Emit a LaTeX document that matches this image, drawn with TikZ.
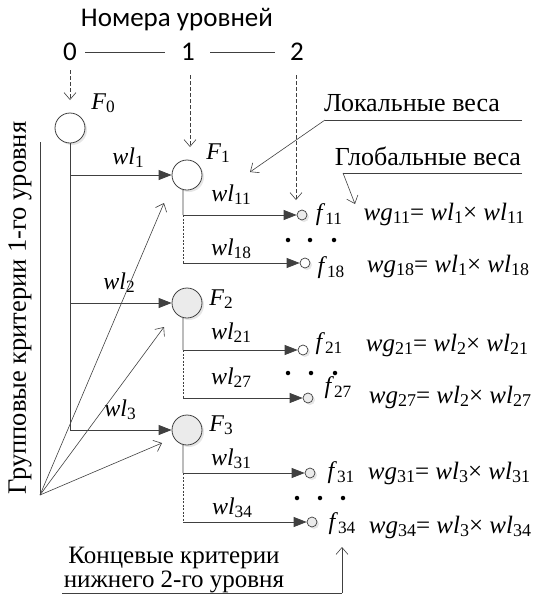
\documentclass[tikz,border=0pt]{standalone}
\usepackage{fontspec}
\setmainfont{Liberation Serif}
\newfontfamily\hdr{Carlito}
\usetikzlibrary{arrows.meta,shadows}
\definecolor{lc}{RGB}{64,64,64}
\definecolor{gfill}{RGB}{235,235,235}
\newcommand\lo[1]{\raisebox{-0.3ex}{\scalebox{0.72}{#1}}}
\newcommand\vv[2]{\textit{#1}\lo{#2}}
\newcommand\frm[2]{\vv{wg}{#1#2}=\ \vv{wl}{#1}×\ \vv{wl}{#1#2}}
\begin{document}
\begin{tikzpicture}[x=1pt,y=-1pt,
  lbl/.style={font=\fontsize{24}{24}\selectfont, inner sep=0pt, text=black},
  txt/.style={font=\fontsize{26}{26}\selectfont, inner sep=0pt, text=black},
  frml/.style={font=\fontsize{25}{25}\selectfont, inner sep=0pt, text=black},
  hd/.style={font=\hdr\fontsize{27}{28}\selectfont, inner sep=0pt},
  bigc/.style={circle, draw=lc, line width=0.8pt, minimum size=30pt, inner sep=0pt, fill=white,
     drop shadow={opacity=0.2, shadow xshift=2pt, shadow yshift=-2pt}},
  smc/.style={circle, draw=lc, line width=0.7pt, minimum size=10pt, inner sep=0pt, fill=white,
     drop shadow={opacity=0.2, shadow xshift=2pt, shadow yshift=-2pt}},
  dotn/.style={circle, fill=black, minimum size=4.5pt, inner sep=0pt},
  ln/.style={draw=lc, line width=0.8pt},
  fa/.style={ln, -{Triangle[length=13pt,width=10pt]}},
  oa/.style={ln, line width=0.6pt, -{Straight Barb[length=7pt,width=12pt]}},
  da/.style={ln, line width=0.6pt, dashed, dash pattern=on 4pt off 2pt, -{Straight Barb[length=7pt,width=12pt]}},
  dl/.style={ln, line width=0.6pt, dash pattern=on 2pt off 1.5pt},
  tline/.style={font=\fontsize{25}{25}\selectfont, inner sep=0pt, text height=16pt, text depth=4pt},
]
\useasboundingbox (0,0) rectangle (535,595);

% header
\node[hd] (hdr) at (177,20) {Номера уровней};
\node[hd] (n0) at (70,52) {0};
\node[hd] (n1) at (188,52) {1};
\node[hd] (n2) at (297,52) {2};
\coordinate (l0a) at (85,52);
\coordinate (l0b) at (165,52);
\coordinate (l1a) at (210,52);
\coordinate (l1b) at (275,52);
\draw[ln, line width=0.6pt] (l0a) -- (l0b);
\draw[ln, line width=0.6pt] (l1a) -- (l1b);

% circles
\node[bigc] (F0) at (70,128) {};
\node[bigc] (F1) at (187,175) {};
\node[bigc, fill=gfill] (F2) at (187,303) {};
\node[bigc, fill=gfill] (F3) at (187,430) {};
\node[lbl] (tF0) at (103,103) {\vv{F}{0}};
\node[lbl] (tF1) at (218,153) {\vv{F}{1}};
\node[lbl] (tF2) at (221,299) {\vv{F}{2}};
\node[lbl] (tF3) at (221,425) {\vv{F}{3}};

% dashed level arrows
\coordinate (d0s) at (70,70);
\coordinate (d0e) at (70,100);
\coordinate (d1s) at (190,75);
\coordinate (d1e) at (190,147);
\coordinate (d2s) at (296,75);
\coordinate (d2e) at (296,200);
\draw[da] (d0s) -- (d0e);
\draw[da] (d1s) -- (d1e);
\draw[da] (d2s) -- (d2e);

% trunk from F0
\coordinate (b1) at (70,175);
\coordinate (b2) at (70,303);
\coordinate (b3) at (70,430);
\draw[ln] (F0) -- (b3);
\draw[fa] (b1) -- (F1);
\draw[fa] (b2) -- (F2);
\draw[fa] (b3) -- (F3);
\node[lbl] (wl1) at (128,158) {\vv{wl}{1}};
\node[lbl] (wl2) at (119,283) {\vv{wl}{2}};
\node[lbl] (wl3) at (120,410) {\vv{wl}{3}};

% left group
\node[font=\fontsize{26.5}{26.5}\selectfont, inner sep=0pt, rotate=90] (grp) at (20,308) {Групповые критерии 1-го уровня};
\coordinate (gt) at (40,142);
\coordinate (gb) at (40,495);
\coordinate (g1) at (164,203);
\coordinate (g2) at (164,327);
\coordinate (g3) at (162,443);
\draw[ln, line width=0.6pt] (gt) -- (gb);
\draw[oa] (gb) -- (g1);
\draw[oa] (gb) -- (g2);
\draw[oa] (gb) -- (g3);

% F1 children
\node[smc, fill=gfill] (c11) at (302,215) {};
\node[smc] (c18) at (305,263) {};
\coordinate (s1a) at (183,215);
\coordinate (s1b) at (183,263);
\draw[ln] (F1.-105) -- (s1a);
\draw[fa] (s1a) -- (c11);
\draw[dl] (s1a) -- (s1b);
\draw[fa] (s1b) -- (c18);
\node[lbl] (wl11) at (231,195) {\vv{wl}{11}};
\node[lbl] (wl18) at (231,249) {\vv{wl}{18}};
\node[lbl] (f11) at (329,215) {\vv{f}{11}};
\node[lbl] (f18) at (331,268) {\vv{f}{18}};
\node[frml] (g11) at (444,214) {\frm{1}{1}};
\node[frml] (g18) at (448,266) {\frm{1}{8}};
\node[dotn] (p11) at (288,240) {};
\node[dotn] (p12) at (310,240) {};
\node[dotn] (p13) at (334,240) {};

% F2 children
\node[smc] (c21) at (303,350) {};
\node[smc, fill=gfill] (c27) at (308,398) {};
\coordinate (s2a) at (183,350);
\coordinate (s2b) at (183,398);
\draw[ln] (F2.-105) -- (s2a);
\draw[fa] (s2a) -- (c21);
\draw[dl] (s2a) -- (s2b);
\draw[fa] (s2b) -- (c27);
\node[lbl] (wl21) at (231,333) {\vv{wl}{21}};
\node[lbl] (wl27) at (231,378) {\vv{wl}{27}};
\node[lbl] (f21) at (329,344) {\vv{f}{21}};
\node[lbl] (f27) at (338,388) {\vv{f}{27}};
\node[frml] (g21) at (447,345) {\frm{2}{1}};
\node[frml] (g27) at (450,397) {\frm{2}{7}};
\node[dotn] (p21) at (288,373) {};
\node[dotn] (p22) at (311,373) {};
\node[dotn] (p23) at (335,373) {};

% F3 children
\node[smc, fill=gfill] (c31) at (310,473) {};
\node[smc, fill=gfill] (c34) at (312,522) {};
\coordinate (s3a) at (183,473);
\coordinate (s3b) at (183,522);
\draw[ln] (F3.-105) -- (s3a);
\draw[fa] (s3a) -- (c31);
\draw[dl] (s3a) -- (s3b);
\draw[fa] (s3b) -- (c34);
\node[lbl] (wl31) at (231,459) {\vv{wl}{31}};
\node[lbl] (wl34) at (232,508) {\vv{wl}{34}};
\node[lbl] (f31) at (341,473) {\vv{f}{31}};
\node[lbl] (f34) at (342,524) {\vv{f}{34}};
\node[frml] (g31) at (449,473) {\frm{3}{1}};
\node[frml] (g34) at (450,527) {\frm{3}{4}};
\node[dotn] (p31) at (297,498) {};
\node[dotn] (p32) at (320,498) {};
\node[dotn] (p33) at (343,498) {};

% Local weights
\node[txt] (loc) at (412,103) {Локальные веса};
\coordinate (la) at (522,120);
\coordinate (lb) at (325,120);
\coordinate (lt) at (250,172);
\draw[ln, line width=0.6pt] (la) -- (lb);
\draw[oa] (lb) -- (lt);

% Global weights
\node[txt] (glo) at (428,156) {Глобальные веса};
\coordinate (ga) at (522,173);
\coordinate (gbb) at (343,173);
\coordinate (gtp) at (355,204);
\draw[ln, line width=0.6pt] (ga) -- (gbb);
\draw[oa] (gbb) -- (gtp);

% Terminal criteria
\node[tline] (term1) at (174,557) {Концевые критерии};
\node[tline] (term2) at (174,581) {нижнего 2-го уровня};
\coordinate (ta) at (62,593);
\coordinate (tb) at (342,593);
\coordinate (tt) at (342,547);
\draw[ln, line width=0.6pt] (ta) -- (tb);
\draw[oa] (tb) -- (tt);
\end{tikzpicture}
\end{document}
